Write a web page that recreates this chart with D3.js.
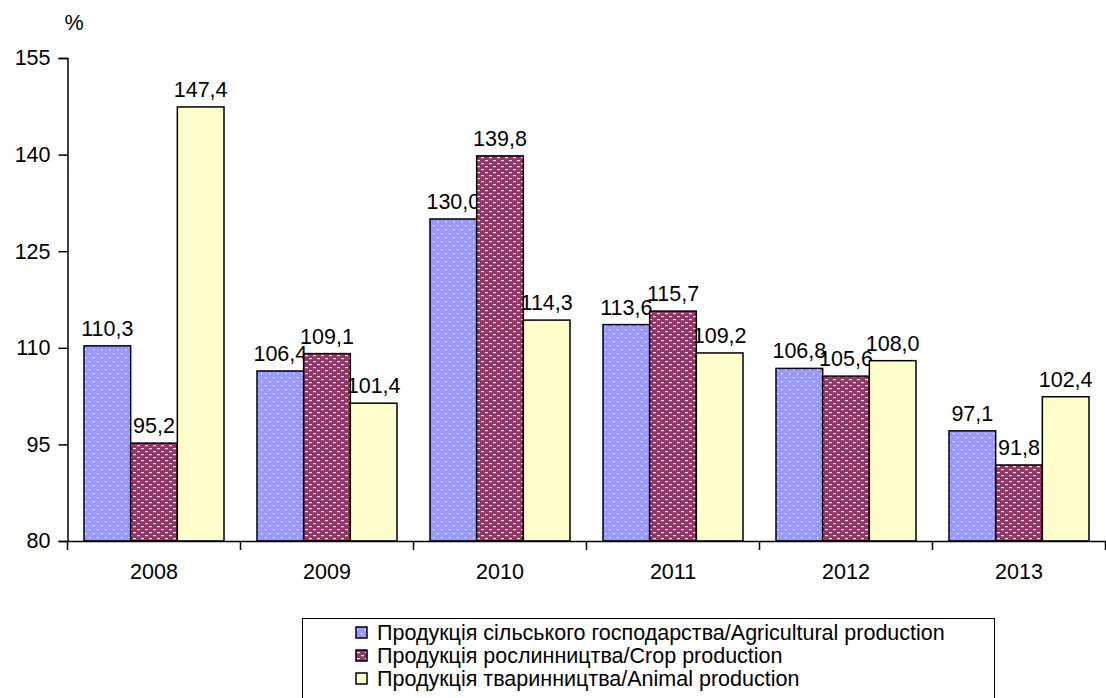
<!DOCTYPE html>
<html><head><meta charset="utf-8">
<script src="https://cdn.jsdelivr.net/npm/d3@7"></script>
<style>body{margin:0;background:#fff;}svg{display:block;font-family:"Liberation Sans",Arial,sans-serif;}</style>
</head><body>
<script>
const years = ["2008","2009","2010","2011","2012","2013"];
const seriesNames = ["Продукція сільського господарства/Agricultural production","Продукція рослинництва/Crop production","Продукція тваринництва/Animal production"];
const agricultural = [110.3,106.4,130.0,113.6,106.8,97.1];
const crop = [95.2,109.1,139.8,115.7,105.6,91.8];
const animal = [147.4,101.4,114.3,109.2,108.0,102.4];
const yTicks = [80,95,110,125,140,155];
const seriesValues = [agricultural, crop, animal];
const colors = ["#9999FF","#993366","#FFFFCC"];

const W=1106,H=698,FS=21.5;
const svg=d3.select("body").append("svg").attr("width",W).attr("height",H);
const defs=svg.append("defs");
// blue dots
const p0=defs.append("pattern").attr("id","pat0").attr("patternUnits","userSpaceOnUse").attr("width",8).attr("height",8);
p0.append("rect").attr("width",8).attr("height",8).attr("fill",colors[0]);
p0.append("rect").attr("x",1).attr("y",1).attr("width",1.3).attr("height",1.3).attr("fill","#fff");
p0.append("rect").attr("x",5).attr("y",5).attr("width",1.3).attr("height",1.3).attr("fill","#fff");
// purple dashes
const p1=defs.append("pattern").attr("id","pat1").attr("patternUnits","userSpaceOnUse").attr("width",8).attr("height",6);
p1.append("rect").attr("width",8).attr("height",6).attr("fill",colors[1]);
p1.append("rect").attr("x",1).attr("y",1).attr("width",3).attr("height",1.2).attr("fill","#fff");
p1.append("rect").attr("x",5).attr("y",4).attr("width",3).attr("height",1.2).attr("fill","#fff");
// yellow faint dots
const p2=defs.append("pattern").attr("id","pat2").attr("patternUnits","userSpaceOnUse").attr("width",8).attr("height",8);
p2.append("rect").attr("width",8).attr("height",8).attr("fill",colors[2]);
p2.append("rect").attr("x",1).attr("y",1).attr("width",1.3).attr("height",1.3).attr("fill","#fff");
p2.append("rect").attr("x",5).attr("y",5).attr("width",1.3).attr("height",1.3).attr("fill","#fff");

const x0=67.5, x1=1105.5, yTop=58, yBot=541;
const x=d3.scaleBand().domain(years).range([x0,x1]).paddingInner(0).paddingOuter(0);
const inner=d3.scaleBand().domain([0,1,2]).range([16.5,x.bandwidth()-16.5]);
const y=d3.scaleLinear().domain([80,155]).range([yBot,yTop]);

// bars
seriesValues.forEach((vals,si)=>{
  const g=svg.append("g");
  g.selectAll("rect").data(vals).join("rect")
    .attr("x",(d,i)=>x(years[i])+inner(si))
    .attr("y",d=>y(d))
    .attr("width",inner.bandwidth())
    .attr("height",d=>y(80)-y(d))
    .attr("fill",`url(#pat${si})`)
    .attr("stroke","#000").attr("stroke-width",1.5);
  g.selectAll("text").data(vals).join("text")
    .attr("x",(d,i)=>x(years[i])+inner(si)+inner.bandwidth()/2)
    .attr("y",d=>y(d)-10)
    .attr("text-anchor","middle").attr("font-size",FS).attr("fill","#000")
    .text(d=>d.toFixed(1).replace(".",","));
});

// y axis
const yAxis=d3.axisLeft(y).tickValues(yTicks).tickSize(9).tickPadding(8);
const ya=svg.append("g").attr("transform",`translate(${x0},0)`).call(yAxis);
ya.attr("font-size",FS).attr("font-family",null);
ya.selectAll("text").attr("font-size",FS).attr("fill","#000");
ya.select(".domain").attr("stroke","#000").attr("stroke-width",1.5);
ya.selectAll(".tick line").attr("stroke","#000").attr("stroke-width",1.5);

// x axis
const xa=svg.append("g").attr("transform",`translate(0,${yBot})`).call(d3.axisBottom(x).tickSize(0).tickPadding(23));
xa.attr("font-size",FS).attr("font-family",null);
xa.select(".domain").attr("stroke","#000").attr("stroke-width",1.5);
xa.selectAll("text").attr("font-size",FS).attr("fill","#000");
// category boundary ticks
svg.append("g").selectAll("line").data(years.concat(["end"])).join("line")
  .attr("x1",(d,i)=>x0+i*x.bandwidth()).attr("x2",(d,i)=>x0+i*x.bandwidth())
  .attr("y1",yBot).attr("y2",yBot+9).attr("stroke","#000").attr("stroke-width",1.5);

svg.append("text").attr("x",74).attr("y",30).attr("text-anchor","middle").attr("font-size",FS).text("%");

// legend
const lg=svg.append("g");
lg.append("rect").attr("x",302.5).attr("y",618.5).attr("width",692).attr("height",100).attr("fill","#fff").attr("stroke","#000").attr("stroke-width",1);
seriesNames.forEach((n,i)=>{
  const cy=633+i*23;
  lg.append("rect").attr("x",356).attr("y",cy-6).attr("width",11).attr("height",11)
    .attr("fill",`url(#pat${i})`).attr("stroke","#000").attr("stroke-width",1.5);
  lg.append("text").attr("x",377).attr("y",cy+7).attr("font-size",FS).text(n);
});
</script>
</body></html>
